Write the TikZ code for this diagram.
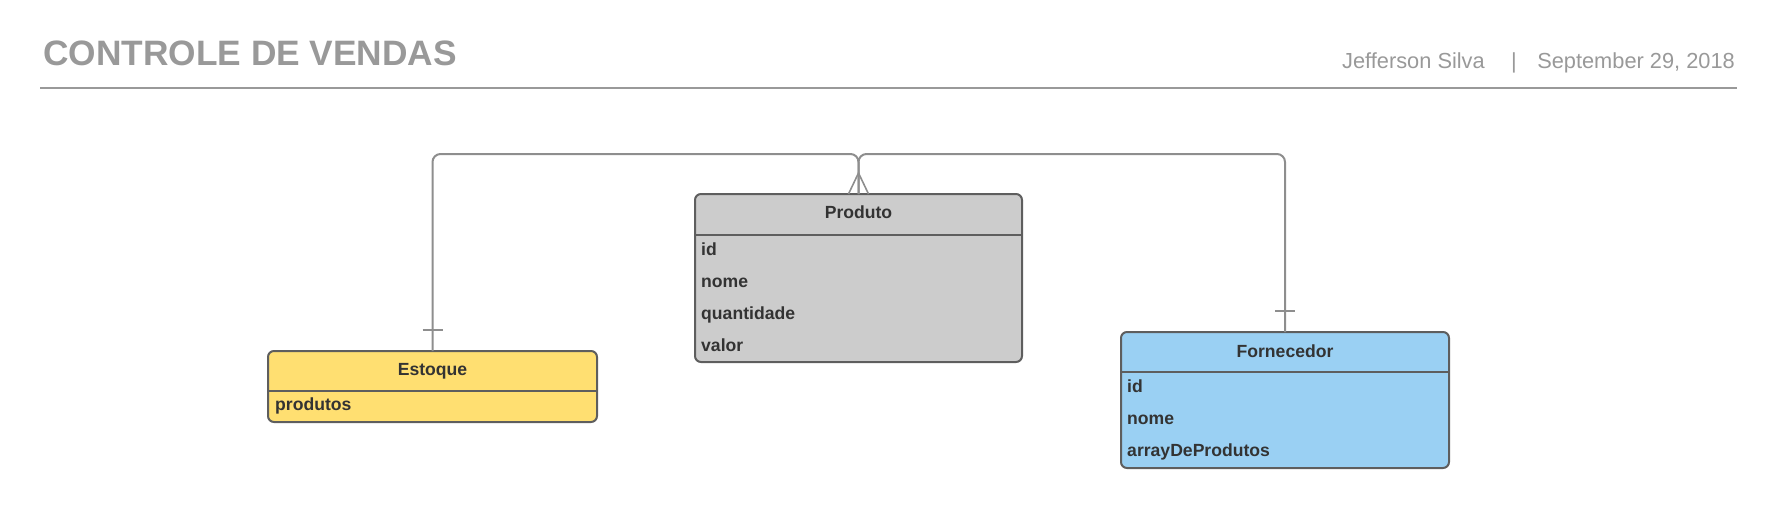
\documentclass[tikz,border=0pt]{standalone}
\usepackage{fontspec}
\setmainfont{Liberation Sans}
\usetikzlibrary{calc}
\definecolor{titlegray}{HTML}{999999}
\definecolor{bordergray}{HTML}{5E5E5E}
\definecolor{conngray}{HTML}{8E8E8E}
\definecolor{txt}{HTML}{333333}
\definecolor{prodfill}{HTML}{CCCCCC}
\definecolor{estfill}{HTML}{FFDF71}
\definecolor{fornfill}{HTML}{9AD0F3}
\tikzset{
  entbox/.style={draw=bordergray, line width=2pt, rounded corners=6pt, anchor=north west, inner sep=0pt, outer sep=0pt},
  divline/.style={draw=bordergray, line width=2pt},
  hdr/.style={anchor=base, inner sep=0pt, text=txt, font=\fontsize{17.6}{20}\selectfont\bfseries},
  row/.style={anchor=base west, inner sep=0pt, text=txt, font=\fontsize{17.6}{20}\selectfont\bfseries},
  conn/.style={draw=conngray, line width=2pt, rounded corners=8pt},
  mark1/.style={draw=conngray, line width=1.6pt},
}
\begin{document}
\begin{tikzpicture}[x=1pt,y=-1pt]
\useasboundingbox (0,0) rectangle (1777,508);
% header
\node[anchor=base west, inner sep=0pt, text=titlegray, font=\fontsize{35.3}{40}\selectfont\bfseries] (title) at (43,66) {CONTROLE DE VENDAS};
\node[anchor=base west, inner sep=0pt, text=titlegray, font=\fontsize{21.8}{24}\selectfont] (author) at (1342,69) {Jefferson Silva};
\node[anchor=base, inner sep=0pt, text=titlegray, font=\fontsize{21.8}{24}\selectfont] (pipe) at (1514,69) {|};
\node[anchor=base east, inner sep=0pt, text=titlegray, font=\fontsize{21.8}{24}\selectfont] (date) at (1735,69) {September 29, 2018};
\coordinate (hl) at (40,88);
\coordinate (hr) at (1737,88);
\draw[draw=titlegray, line width=2pt] (hl) -- (hr);

% Produto
\node[entbox, fill=prodfill, minimum width=327pt, minimum height=168pt] (produto) at (695,194) {};
\draw[divline] (695,235) -- (1022,235);
\node[hdr] (produtoh) at (858.5,218) {Produto};
\node[row] (p1) at (701,255) {id};
\node[row] (p2) at (701,287) {nome};
\node[row] (p3) at (701,319) {quantidade};
\node[row] (p4) at (701,351) {valor};

% Estoque
\node[entbox, fill=estfill, minimum width=329pt, minimum height=71pt] (estoque) at (268,351) {};
\draw[divline] (268,391) -- (597,391);
\node[hdr] (estoqueh) at (432.5,375) {Estoque};
\node[row] (e1) at (275,410) {produtos};

% Fornecedor
\node[entbox, fill=fornfill, minimum width=328pt, minimum height=136pt] (fornecedor) at (1121,332) {};
\draw[divline] (1121,372) -- (1449,372);
\node[hdr] (fornecedorh) at (1285,357) {Fornecedor};
\node[row] (f1) at (1127,392) {id};
\node[row] (f2) at (1127,424) {nome};
\node[row] (f3) at (1127,456) {arrayDeProdutos};

% connectors
\coordinate (jn) at ($(produto.north)+(0,-40)$);
\draw[conn] (estoque.north) |- (jn) -- (produto.north);
\draw[conn] (fornecedor.north) |- (jn) -- (produto.north);
% crow's foot at Produto
\coordinate (cf) at ($(produto.north)+(0,-21)$);
\draw[mark1] ($(produto.north)+(-10,0)$) -- (cf) -- ($(produto.north)+(10,0)$);
% one marks
\draw[mark1] ($(estoque.north)+(-10,-21)$) -- ($(estoque.north)+(10,-21)$);
\draw[mark1] ($(fornecedor.north)+(-10,-21)$) -- ($(fornecedor.north)+(10,-21)$);
\end{tikzpicture}
\end{document}
